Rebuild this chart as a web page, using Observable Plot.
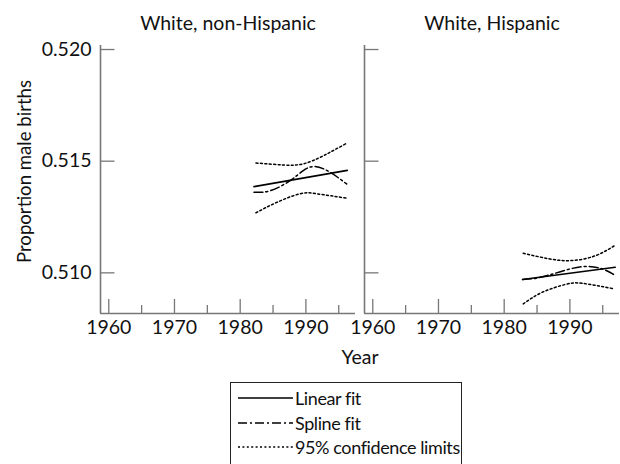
<!DOCTYPE html>
<html>
<head>
<meta charset="utf-8">
<script src="https://cdn.jsdelivr.net/npm/d3@7"></script>
<script src="https://cdn.jsdelivr.net/npm/@observablehq/plot@0.6"></script>
<style>
  html, body { margin: 0; padding: 0; background: #fff; }
  #wrap { position: relative; width: 620px; height: 464px; overflow: hidden; font-family: Lato, "Open Sans", sans-serif; color: #111; }
  #xlabel { position: absolute; left: 0; width: 620px; padding-left: 100px; box-sizing: border-box; text-align: center; top: 345px; font-size: 19.5px; }
  #legend { position: absolute; left: 230px; top: 382px; width: 232px; height: 100px; border: 1.5px solid #222; border-bottom: none; box-sizing: border-box; font-size: 18px; letter-spacing: -0.4px; padding-top: 3px; white-space: nowrap; }
  .row { display: flex; align-items: center; height: 24.5px; }
  .row svg { margin-left: 7px; margin-right: 2px; flex: none; }
</style>
</head>
<body>
<div id="wrap">
  <div id="chart"></div>
  <div id="xlabel">Year</div>
  <div id="legend"></div>
</div>
<script>
// ---- data ----
const panels = ["White, non-Hispanic", "White, Hispanic"];
const yLabel = "Proportion male births";
const yTicks = [0.510, 0.515, 0.520];
const xMajor = [1960, 1970, 1980, 1990];
const xMinor = [1965, 1975, 1985, 1995];
const xDomain = [1958.74, 1997.55];
const yDomain = [0.50818, 0.52018];

// White, non-Hispanic
const nhLinearYear = [1982.1, 1996.3];
const nhLinear     = [0.51386, 0.51459];
const nhSplineYear = [1982.1, 1984.6, 1987.6, 1989.6, 1991.4, 1993.7, 1996.2];
const nhSpline     = [0.51361, 0.51368, 0.51413, 0.51458, 0.51476, 0.51450, 0.51398];
const nhUpperYear  = [1982.4, 1986.6, 1989.6, 1992.7, 1996.3];
const nhUpper      = [0.51492, 0.51483, 0.51488, 0.51525, 0.51582];
const nhLowerYear  = [1982.4, 1985.6, 1989.1, 1991.7, 1996.3];
const nhLower      = [0.51269, 0.51316, 0.51354, 0.51354, 0.51334];

// White, Hispanic
const hLinearYear = [1982.8, 1996.9];
const hLinear     = [0.50970, 0.51025];
const hSplineYear = [1982.8, 1985.2, 1988.3, 1991.9, 1994.9, 1996.9];
const hSpline     = [0.50970, 0.50978, 0.51003, 0.51028, 0.51018, 0.50988];
const hUpperYear  = [1982.9, 1986.8, 1990.3, 1993.9, 1996.8];
const hUpper      = [0.51088, 0.51063, 0.51055, 0.51077, 0.51122];
const hLowerYear  = [1982.9, 1985.8, 1989.3, 1991.9, 1996.8];
const hLower      = [0.50861, 0.50913, 0.50948, 0.50953, 0.50928];

const legendLabels = ["Linear fit", "Spline fit", "95% confidence limits"];

// ---- build table ----
function rows(panel, series, xs, ys) {
  return xs.map((x, i) => ({panel, series, year: x, value: ys[i]}));
}
const data = [
  ...rows(panels[0], "linear", nhLinearYear, nhLinear),
  ...rows(panels[0], "spline", nhSplineYear, nhSpline),
  ...rows(panels[0], "upper", nhUpperYear, nhUpper),
  ...rows(panels[0], "lower", nhLowerYear, nhLower),
  ...rows(panels[1], "linear", hLinearYear, hLinear),
  ...rows(panels[1], "spline", hSplineYear, hSpline),
  ...rows(panels[1], "upper", hUpperYear, hUpper),
  ...rows(panels[1], "lower", hLowerYear, hLower)
];

const dashSpline = "9,3,2,3";
const dashCI = "2,2.4";
const axisGray = "#777";
const fs = 19.5;

const plot = Plot.plot({
  width: 620,
  height: 372,
  marginLeft: 100,
  marginRight: 0,
  marginTop: 45,
  marginBottom: 59,
  style: {fontFamily: "Lato, 'Open Sans', sans-serif", fontSize: fs + "px", color: "#111", background: "#fff"},
  fx: {domain: panels, padding: 0.034, label: null},
  x: {domain: xDomain},
  y: {domain: yDomain},
  marks: [
    Plot.axisFx({anchor: "top", tickSize: 0, tickPadding: 16, label: null, fontSize: fs}),
    Plot.axisY({ticks: yTicks, tickFormat: ".3f", tickSize: 0, tickPadding: 9, fontSize: fs, label: null}),
    Plot.text([yLabel], {fx: () => panels[0], text: d => d, frameAnchor: "left", rotate: -90,
                         textAnchor: "middle", lineAnchor: "middle", dx: -75, dy: -8, fontSize: 18.6, fill: "#111"}),
    Plot.axisX({ticks: xMajor, tickFormat: "d", tickSize: 0, tickPadding: 7, fontSize: fs, label: null}),
    // axis lines
    Plot.ruleX([xDomain[0]], {stroke: axisGray, strokeWidth: 1.6}),
    Plot.ruleY([yDomain[0]], {stroke: axisGray, strokeWidth: 1.6}),
    // inward ticks
    Plot.tickY(yTicks, {y: d => d, stroke: axisGray, strokeWidth: 1.3, insetRight: 240.5}),
    Plot.tickX(xMajor, {x: d => d, stroke: axisGray, strokeWidth: 1.3, insetTop: 254}),
    Plot.tickX(xMinor, {x: d => d, stroke: axisGray, strokeWidth: 1.3, insetTop: 260}),
    // fits
    Plot.line(data.filter(d => d.series === "linear"), {x: "year", y: "value", fx: "panel", z: "panel", stroke: "#000", strokeWidth: 1.6}),
    Plot.line(data.filter(d => d.series === "spline"), {x: "year", y: "value", fx: "panel", z: "panel", stroke: "#000", strokeWidth: 1.5, strokeDasharray: dashSpline, curve: "natural"}),
    Plot.line(data.filter(d => d.series === "upper" || d.series === "lower"), {x: "year", y: "value", fx: "panel", z: d => d.panel + d.series, stroke: "#000", strokeWidth: 1.5, strokeDasharray: dashCI, curve: "natural"})
  ]
});
document.getElementById("chart").appendChild(plot);

// legend
const dashes = [null, dashSpline, dashCI];
const legend = d3.select("#legend");
legendLabels.forEach((lab, i) => {
  const row = legend.append("div").attr("class", "row");
  const s = row.append("svg").attr("width", 55).attr("height", 10);
  s.append("line").attr("x1", 0).attr("x2", 55).attr("y1", 5).attr("y2", 5)
    .attr("stroke", "#000").attr("stroke-width", 1.4)
    .attr("stroke-dasharray", dashes[i]);
  row.append("span").text(lab);
});
</script>
</body>
</html>
